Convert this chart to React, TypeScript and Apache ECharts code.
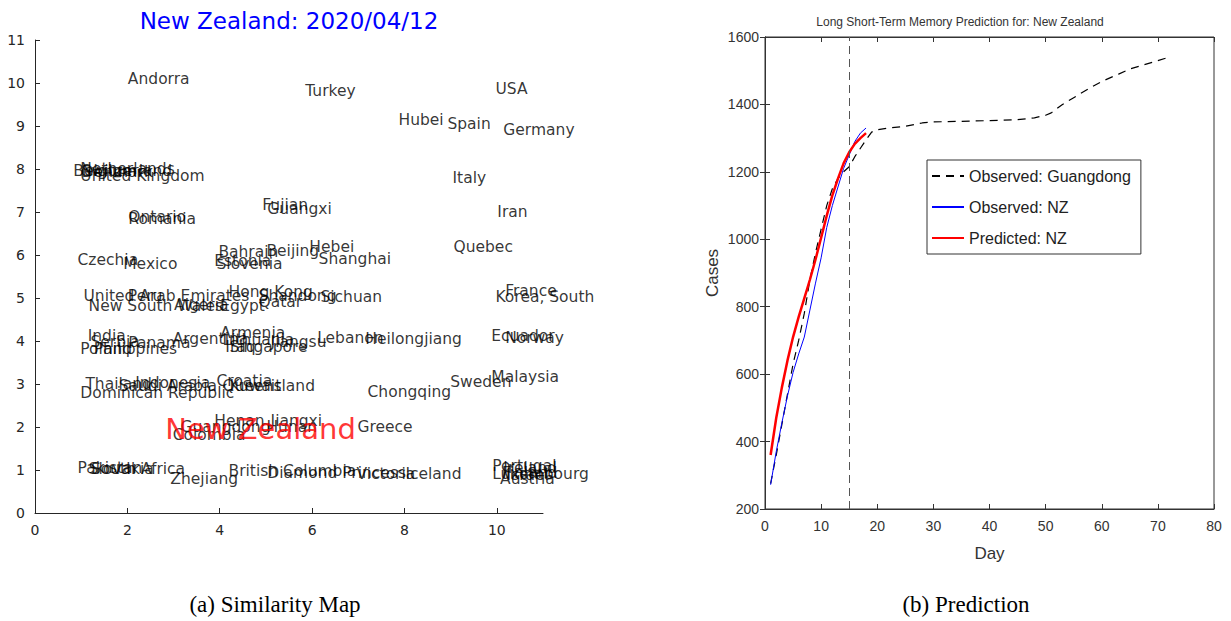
import React, { useEffect, useRef } from "react";
import * as echarts from "echarts";

// ---------- Similarity map (left) ----------
const mapNames = [
  "Andorra", "Turkey", "USA", "Hubei", "Spain", "Germany", "Italy", "Iran",
  "Belgium", "Netherlands", "Switzerland", "Denmark", "United Kingdom",
  "Ontario", "Romania", "Fujian", "Guangxi", "Czechia", "Mexico", "Bahrain",
  "Estonia", "Slovenia", "Beijing", "Hebei", "Shanghai", "Quebec",
  "United Arab Emirates", "Peru", "New South Wales", "Algeria", "Egypt",
  "Hong Kong", "Shandong", "Qatar", "Sichuan", "France", "Korea, South",
  "India", "Serbia", "Panama", "Poland", "Philippines", "Argentina", "Armenia",
  "Lithuania", "Jiangsu", "Iraq", "Singapore", "Lebanon", "Heilongjiang",
  "Ecuador", "Norway", "Thailand", "Saudi Arabia", "Indonesia",
  "Dominican Republic", "Croatia", "Queensland", "Kuwait", "Chongqing",
  "Sweden", "Malaysia", "Henan", "Jiangxi", "Guangdong", "Hunan", "Colombia",
  "Greece", "Pakistan", "Slovakia", "South Africa", "Zhejiang",
  "British Columbia", "Diamond Princess", "Victoria", "Iceland", "Portugal",
  "Ireland", "Luxembourg", "Austria", "Finland", "Israel",
];
const mapX = [
  2.0, 5.84, 9.96, 7.86, 8.92, 10.13, 9.03, 10.0,
  0.82, 0.97, 1.0, 1.0, 0.97,
  2.01, 2.01, 4.91, 5.02, 0.91, 1.9, 3.96,
  3.87, 3.92, 5.0, 5.93, 6.13, 9.05,
  1.04, 2.0, 1.15, 3.0, 4.0,
  4.18, 4.83, 4.83, 6.17, 10.17, 9.96,
  1.13, 1.19, 2.01, 0.97, 1.26, 2.97, 4.0,
  4.05, 5.09, 4.11, 4.2, 6.1, 7.14,
  9.87, 10.17, 1.08, 1.8, 2.16,
  0.97, 3.92, 4.05, 4.2, 7.19,
  8.98, 9.87, 3.87, 5.09, 3.14, 5.0, 2.97,
  6.97, 0.91, 1.15, 1.2, 2.92,
  4.18, 5.02, 6.95, 8.01, 9.89,
  10.13, 9.89, 10.06, 10.1, 10.2,
];
const mapY = [
  10.1, 9.81, 9.86, 9.14, 9.05, 8.9, 7.79, 7.0,
  7.95, 8.0, 7.95, 7.92, 7.83,
  6.88, 6.84, 7.16, 7.06, 5.88, 5.79, 6.07,
  5.86, 5.79, 6.09, 6.19, 5.91, 6.19,
  5.05, 5.05, 4.81, 4.83, 4.81,
  5.14, 5.05, 4.91, 5.02, 5.16, 5.02,
  4.12, 3.98, 3.95, 3.81, 3.81, 4.05, 4.19,
  4.02, 3.98, 3.86, 3.86, 4.07, 4.05,
  4.12, 4.07, 3.0, 2.95, 3.02,
  2.79, 3.07, 2.95, 2.95, 2.81,
  3.05, 3.16, 2.14, 2.14, 2.0, 2.0, 1.81,
  2.0, 1.05, 1.02, 1.02, 0.79,
  0.98, 0.93, 0.91, 0.91, 1.09,
  1.05, 0.91, 0.79, 0.93, 0.88,
];
const targetName = "New Zealand";
const targetXY = [2.81, 1.95];
const mapTitle = "New Zealand: 2020/04/12";
const mapXTicks = [0, 2, 4, 6, 8, 10];

// ---------- Prediction (right) ----------
const guangdongDays = [1, 2, 3, 4, 5, 6, 7, 8, 9, 10, 11, 12, 13, 14, 15, 16, 17, 18, 19, 20, 22, 25, 28, 30, 35, 40, 45, 48, 50, 51, 53, 55, 58, 60, 63, 65, 67, 70, 72];
const guangdongCases = [275, 360, 450, 540, 630, 700, 780, 880, 960, 1030, 1100, 1150, 1180, 1200, 1215, 1245, 1270, 1295, 1318, 1325, 1330, 1335, 1345, 1348, 1350, 1352, 1355, 1360, 1368, 1375, 1400, 1420, 1450, 1468, 1490, 1505, 1515, 1530, 1540];
const nzDays = [1, 2, 3, 4, 5, 6, 7, 8, 9, 10, 11, 12, 13, 14, 15, 16, 17, 18];
const nzObserved = [272, 370, 455, 535, 605, 660, 710, 790, 870, 945, 1035, 1100, 1155, 1210, 1250, 1290, 1315, 1330];
const nzPredicted = [360, 470, 560, 640, 710, 770, 825, 880, 940, 1005, 1070, 1130, 1180, 1225, 1258, 1283, 1300, 1315];
const splitDay = 15;
const predTitle = "Long Short-Term Memory Prediction for: New Zealand";
const seriesNames = ["Observed: Guangdong", "Observed: NZ", "Predicted: NZ"];
const captions = ["(a) Similarity Map", "(b) Prediction"];

const ink = "#262626";
const mapFont = "'DejaVu Sans', sans-serif";
const narrow = "'Liberation Sans Narrow', 'Liberation Sans', sans-serif";
const serif = "'Liberation Serif', 'DejaVu Serif', serif";

export default function App() {
  const ref = useRef<HTMLDivElement>(null);
  useEffect(() => {
    if (!ref.current) return;
    const chart = echarts.init(ref.current, undefined, { renderer: "svg" });
    const mapData = mapNames.map((n, i) => ({ name: n, value: [mapX[i], mapY[i]] }));
    const zip = (xs: number[], ys: number[]) => xs.map((x, i) => [x, ys[i]]);
    chart.setOption({
      animation: false,
      backgroundColor: "#ffffff",
      grid: [
        { left: 35, top: 40, width: 508, height: 473 },
        { left: 765, top: 37, width: 449, height: 472, show: true, borderColor: "#333", borderWidth: 1, backgroundColor: "transparent" },
      ],
      xAxis: [
        {
          gridIndex: 0, type: "value", min: 0, max: 11,
          axisLine: { lineStyle: { color: ink } },
          axisTick: { inside: true, length: 5, customValues: mapXTicks, lineStyle: { color: ink } },
          axisLabel: { customValues: mapXTicks, fontSize: 14, color: ink, margin: 10, fontFamily: mapFont },
          splitLine: { show: false },
        },
        {
          gridIndex: 1, type: "value", min: 0, max: 80, interval: 10,
          name: "Day", nameLocation: "middle", nameGap: 36,
          nameTextStyle: { fontSize: 17, color: "#333", fontFamily: narrow },
          axisLine: { lineStyle: { color: "#333" } },
          axisTick: { inside: true, length: 5, lineStyle: { color: "#333" } },
          axisLabel: { fontSize: 14, color: "#333", margin: 10, fontFamily: narrow },
          splitLine: { show: false },
        },
        {
          gridIndex: 1, type: "value", min: 0, max: 80, interval: 10, position: "top",
          axisLine: { lineStyle: { color: "#333" } },
          axisTick: { inside: true, length: 5, lineStyle: { color: "#333" } },
          axisLabel: { show: false },
          splitLine: { show: false },
        },
      ],
      yAxis: [
        {
          gridIndex: 0, type: "value", min: 0, max: 11, interval: 1,
          axisLine: { show: true, lineStyle: { color: ink } },
          axisTick: { show: true, inside: true, length: 5, lineStyle: { color: ink } },
          axisLabel: { fontSize: 14, color: ink, margin: 10, fontFamily: mapFont },
          splitLine: { show: false },
        },
        {
          gridIndex: 1, type: "value", min: 200, max: 1600, interval: 200,
          name: "Cases", nameLocation: "middle", nameGap: 44,
          nameTextStyle: { fontSize: 17, color: "#333", fontFamily: narrow },
          axisLine: { show: true, lineStyle: { color: "#333" } },
          axisTick: { show: true, inside: true, length: 5, lineStyle: { color: "#333" } },
          axisLabel: { fontSize: 14, color: "#333", margin: 6, fontFamily: narrow, formatter: (v: number) => String(v) },
          splitLine: { show: false },
        },
        {
          gridIndex: 1, type: "value", min: 200, max: 1600, interval: 200, position: "right",
          axisLine: { show: true, lineStyle: { color: "#333" } },
          axisTick: { show: true, inside: true, length: 5, lineStyle: { color: "#333" } },
          axisLabel: { show: false },
          splitLine: { show: false },
        },
      ],
      legend: {
        data: seriesNames,
        orient: "vertical",
        left: 927, top: 160,
        itemWidth: 32, itemHeight: 12, itemGap: 15,
        padding: [8, 10, 8, 4],
        borderColor: "#333", borderWidth: 1,
        backgroundColor: "#fff",
        itemStyle: { opacity: 0 },
        textStyle: { fontSize: 16, color: "#222", fontFamily: narrow },
      },
      graphic: [
        { type: "text", x: 289, y: 21, style: { text: mapTitle, fill: "#0000ff", fontSize: 23, fontFamily: mapFont, align: "center", verticalAlign: "middle" } },
        { type: "text", x: 960, y: 22, style: { text: predTitle, fill: "#333", fontSize: 12, fontFamily: narrow, align: "center", verticalAlign: "middle" } },
        { type: "text", x: 275, y: 604, style: { text: captions[0], fill: "#000", fontSize: 23, fontFamily: serif, align: "center", verticalAlign: "middle" } },
        { type: "text", x: 966, y: 604, style: { text: captions[1], fill: "#000", fontSize: 23, fontFamily: serif, align: "center", verticalAlign: "middle" } },
      ],
      series: [
        {
          type: "scatter", xAxisIndex: 0, yAxisIndex: 0,
          symbolSize: 1, itemStyle: { color: "rgba(0,0,0,0)" },
          data: mapData,
          label: { show: true, formatter: "{b}", position: "right", distance: 0, color: "#000", fontSize: 15.5, fontFamily: mapFont },
          silent: true,
        },
        {
          type: "scatter", xAxisIndex: 0, yAxisIndex: 0,
          symbolSize: 1, itemStyle: { color: "rgba(0,0,0,0)" },
          data: [{ name: targetName, value: targetXY }],
          label: { show: true, formatter: "{b}", position: "right", distance: 0, color: "#ff0000", fontSize: 29, fontFamily: mapFont },
          silent: true,
        },
        {
          name: seriesNames[0], type: "line", xAxisIndex: 1, yAxisIndex: 1,
          data: zip(guangdongDays, guangdongCases), symbol: "none",
          lineStyle: { color: "#000", width: 1.2, type: [8, 6] },
          itemStyle: { color: "#555" },
          markLine: {
            silent: true, symbol: "none", label: { show: false },
            lineStyle: { color: "#555", width: 1, type: [8, 5] },
            data: [{ xAxis: splitDay }],
          },
        },
        {
          name: seriesNames[1], type: "line", xAxisIndex: 1, yAxisIndex: 1,
          data: zip(nzDays, nzObserved), symbol: "none",
          lineStyle: { color: "#0000ff", width: 1 },
          itemStyle: { color: "#0000ff" },
        },
        {
          name: seriesNames[2], type: "line", xAxisIndex: 1, yAxisIndex: 1,
          data: zip(nzDays, nzPredicted), symbol: "none",
          lineStyle: { color: "#ff0000", width: 2.5 },
          itemStyle: { color: "#ff0000" },
        },
      ],
    });
    return () => chart.dispose();
  }, []);
  return (
    <div
      ref={ref}
      style={{ position: "fixed", left: 0, top: 0, width: 1231, height: 621, background: "#fff" }}
    />
  );
}
